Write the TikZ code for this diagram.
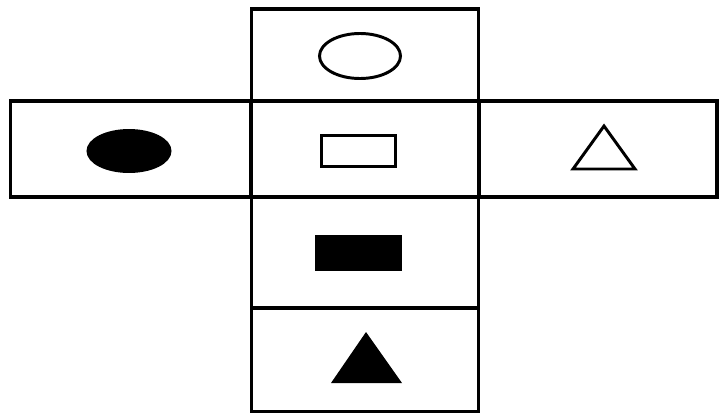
\documentclass[tikz,border=0pt]{standalone}
\usetikzlibrary{shapes.geometric}

\begin{document}
\begin{tikzpicture}[x=0.025cm,y=-0.025cm,
  face/.style={draw,line width=2.5pt,inner sep=0pt},
  sym/.style={draw,line width=2.1pt,inner sep=0pt}]
\useasboundingbox (0,0) rectangle (720,416);
% faces of the net
\node[face,minimum width=5.6625cm,minimum height=2.2875cm] (fTop) at (365,55) {};
\node[face,minimum width=6cm,minimum height=2.4cm] (fLeft) at (130.7,149) {};
\node[face,minimum width=5.6625cm,minimum height=2.4cm] (fMid) at (365,149) {};
\node[face,minimum width=5.95cm,minimum height=2.4cm] (fRight) at (598,149) {};
\node[face,minimum width=5.6625cm,minimum height=2.775cm] (fLow) at (365,252.5) {};
\node[face,minimum width=5.6625cm,minimum height=2.5875cm] (fBot) at (365,359.75) {};
% symbols
\node[sym,ellipse,minimum width=2.025cm,minimum height=1.125cm] (eTop) at (360,56) {};
\node[sym,ellipse,fill=black,minimum width=2.05cm,minimum height=1.025cm] (eLeft) at (129,151) {};
\node[sym,minimum width=1.8375cm,minimum height=0.775cm] (rMid) at (358.3,151) {};
\node[fill=black,inner sep=0pt,minimum width=2.175cm,minimum height=0.9cm] (rLow) at (358.5,253) {};
\draw[line width=2.1pt,line join=miter] (604,126) -- (635,169) -- (573,169) -- cycle;
\fill (366,332) -- (402,383) -- (331,383) -- cycle;
\end{tikzpicture}
\end{document}
